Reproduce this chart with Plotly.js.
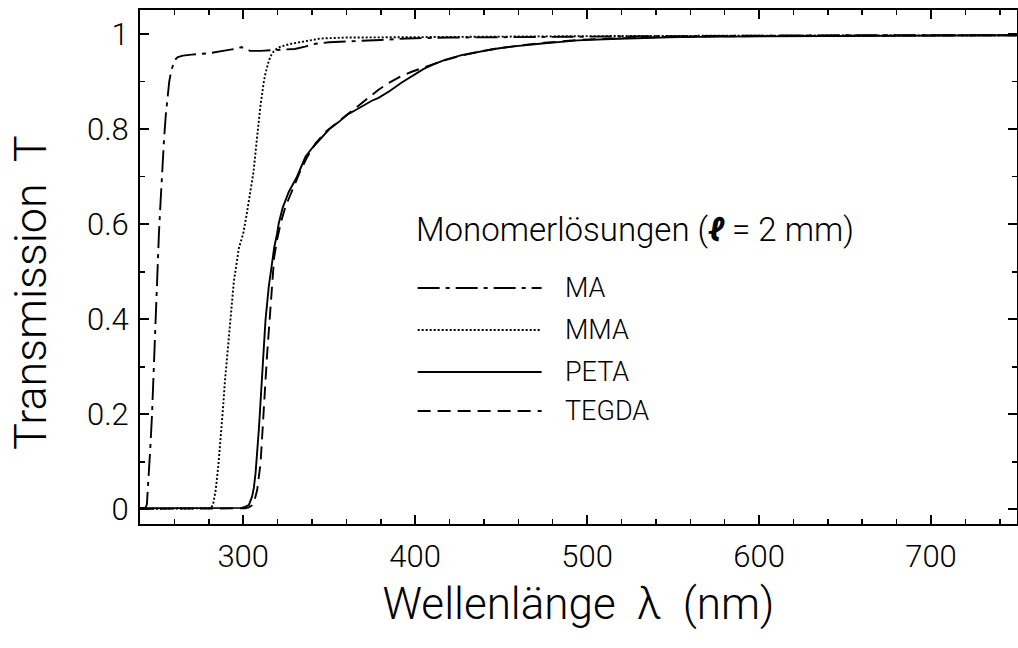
<!DOCTYPE html>
<html>
<head>
<meta charset="utf-8">
<script src="https://cdn.plot.ly/plotly-3.0.1.min.js"></script>
<style>html,body{margin:0;padding:0;background:#fff;}#chart{width:1018px;height:648px;}</style>
</head>
<body>
<div id="chart"></div>
<script>
// Wavelength (nm) and transmission values
const maX = [240,243,244,245,246,247,248,249,250,251,252,253,254,255,256,257,258,259,260,262,265,270,280,290,297,299,301,304,310,320,330,336,342,350,365,380,395,420,460,500,550,600,650,700,750];
const maY = [0.002,0.002,0.01,0.06,0.13,0.2,0.3,0.4,0.5,0.58,0.65,0.72,0.78,0.83,0.87,0.9,0.92,0.935,0.945,0.952,0.955,0.957,0.96,0.966,0.97,0.973,0.97,0.965,0.965,0.967,0.969,0.974,0.98,0.983,0.985,0.988,0.991,0.993,0.994,0.995,0.996,0.997,0.998,0.998,0.998];

const mmaX = [240,270,281,282.5,284,285.5,287,288,289.4,291,292.7,294.6,297.5,300,302,304,306,308,310,312,313,315,316.8,319,321.7,328,334,340,345,360,400,450,500,600,700,750];
const mmaY = [0.001,0.001,0.002,0.01,0.04,0.09,0.15,0.2,0.27,0.34,0.41,0.48,0.55,0.58,0.62,0.67,0.71,0.78,0.848,0.9,0.918,0.945,0.96,0.968,0.974,0.98,0.984,0.988,0.991,0.993,0.994,0.995,0.996,0.997,0.998,0.998];

const petaX = [240,290,299,301,303.3,305.2,306.2,307.2,308,309.1,310,311,312,313,314,314.9,316.8,318,319.7,320.7,323,326.5,331.3,336.2,340,345.8,350,355.5,361,365.2,370,374.8,378.7,385,392,398,405,411,417.3,427,436.6,446,455.9,465,475.3,485,494.6,513.9,530,552.6,580,620,680,750];
const petaY = [0.002,0.002,0.003,0.005,0.009,0.027,0.045,0.076,0.11,0.167,0.22,0.272,0.34,0.399,0.44,0.469,0.518,0.55,0.58,0.602,0.635,0.668,0.7,0.742,0.76,0.784,0.8,0.815,0.832,0.84,0.85,0.86,0.866,0.88,0.898,0.912,0.927,0.937,0.946,0.956,0.963,0.969,0.974,0.978,0.981,0.984,0.987,0.99,0.992,0.994,0.995,0.996,0.997,0.998];

const tegdaX = [240,295,301,303.3,305,306.2,307,308.1,309,310.1,311,312,313,314,314.9,316,316.8,318,319.7,322,324.6,327,329.4,333,337,342,348,355,362,370,378.7,385,392,398,403.8,410,417,427,436.6,446,455.9,465,475.3,485,494.6,513.9,530,552.6,600,680,750];
const tegdaY = [0.001,0.001,0.002,0.004,0.008,0.013,0.025,0.04,0.065,0.097,0.15,0.202,0.272,0.33,0.377,0.44,0.483,0.53,0.567,0.605,0.637,0.66,0.679,0.71,0.74,0.77,0.795,0.815,0.835,0.858,0.883,0.898,0.912,0.921,0.928,0.936,0.945,0.955,0.963,0.969,0.974,0.978,0.982,0.985,0.988,0.991,0.993,0.995,0.996,0.997,0.998];

const seriesNames = ['MA','MMA','PETA','TEGDA'];
const seriesX = [maX, mmaX, petaX, tegdaX];
const seriesY = [maY, mmaY, petaY, tegdaY];
const dashes = ['22px,6px,4px,6px','2px,2px','solid','13px,7px'];

const legendTitle = 'Monomerlösungen (<b><i>ℓ</i></b> = 2 mm)';
const xTitle = 'Wellenlänge  λ  (nm)';
const yTitle = 'Transmission  T';

const FONT = 'Roboto, "Liberation Sans", sans-serif';

const traces = seriesNames.map((n, i) => ({
  x: seriesX[i], y: seriesY[i], name: n, type: 'scatter', mode: 'lines',
  line: {color: '#000', width: 1.9, dash: dashes[i]}, showlegend: false
}));

// custom legend (long sample lines as in the reference)
const legX0 = 0.3166, legX1 = 0.4579, legLabelX = 0.4818;
const legRowY = [0.459, 0.3774, 0.2957, 0.2198];
const shapes = [];
const annotations = [];
seriesNames.forEach((n, i) => {
  shapes.push({type: 'line', xref: 'paper', yref: 'paper', x0: legX0, x1: legX1, y0: legRowY[i], y1: legRowY[i],
    line: {color: '#000', width: 1.9, dash: dashes[i]}});
  annotations.push({xref: 'paper', yref: 'paper', x: legLabelX, y: legRowY[i], xanchor: 'left', yanchor: 'middle',
    text: n, showarrow: false, font: {family: FONT, size: 27, color: '#000', weight: 300}});
});
annotations.push({xref: 'paper', yref: 'paper', x: 0.312, y: 0.572, xanchor: 'left', yanchor: 'middle',
  text: legendTitle, showarrow: false, font: {family: FONT, size: 33, color: '#000', weight: 300}});
// y-axis title (placed as in the reference, slightly below the axis centre)
annotations.push({xref: 'paper', yref: 'paper', x: -0.125, y: 0.45, xanchor: 'center', yanchor: 'middle',
  textangle: -90, text: yTitle, showarrow: false, font: {family: FONT, size: 45, color: '#000', weight: 300}});

const axisCommon = {
  showgrid: false, zeroline: false, showline: true, linecolor: '#000', linewidth: 2,
  mirror: 'allticks', ticks: 'inside', ticklen: 9, tickwidth: 2, tickcolor: '#000',
  tickfont: {family: FONT, size: 31, color: '#000', weight: 300}
};

const layout = {
  width: 1018, height: 648, autosize: false,
  margin: {l: 140, r: 1, t: 10, b: 124},
  paper_bgcolor: '#fff', plot_bgcolor: '#fff',
  xaxis: Object.assign({}, axisCommon, {
    range: [240, 750], tick0: 300, dtick: 100, ticklabelstandoff: 4,
    minor: {dtick: 20, ticks: 'inside', ticklen: 5, tickwidth: 1.5, tickcolor: '#000'},
    title: {text: xTitle, font: {family: FONT, size: 44, color: '#000', weight: 300}, standoff: 14}
  }),
  yaxis: Object.assign({}, axisCommon, {
    range: [-0.031, 1.051], tick0: 0, dtick: 0.2, ticklabelstandoff: 3,
    minor: {dtick: 0.1, ticks: 'inside', ticklen: 5, tickwidth: 1.5, tickcolor: '#000'}
  }),
  shapes: shapes,
  annotations: annotations
};

Plotly.newPlot('chart', traces, layout, {displayModeBar: false, staticPlot: true});
</script>
</body>
</html>
